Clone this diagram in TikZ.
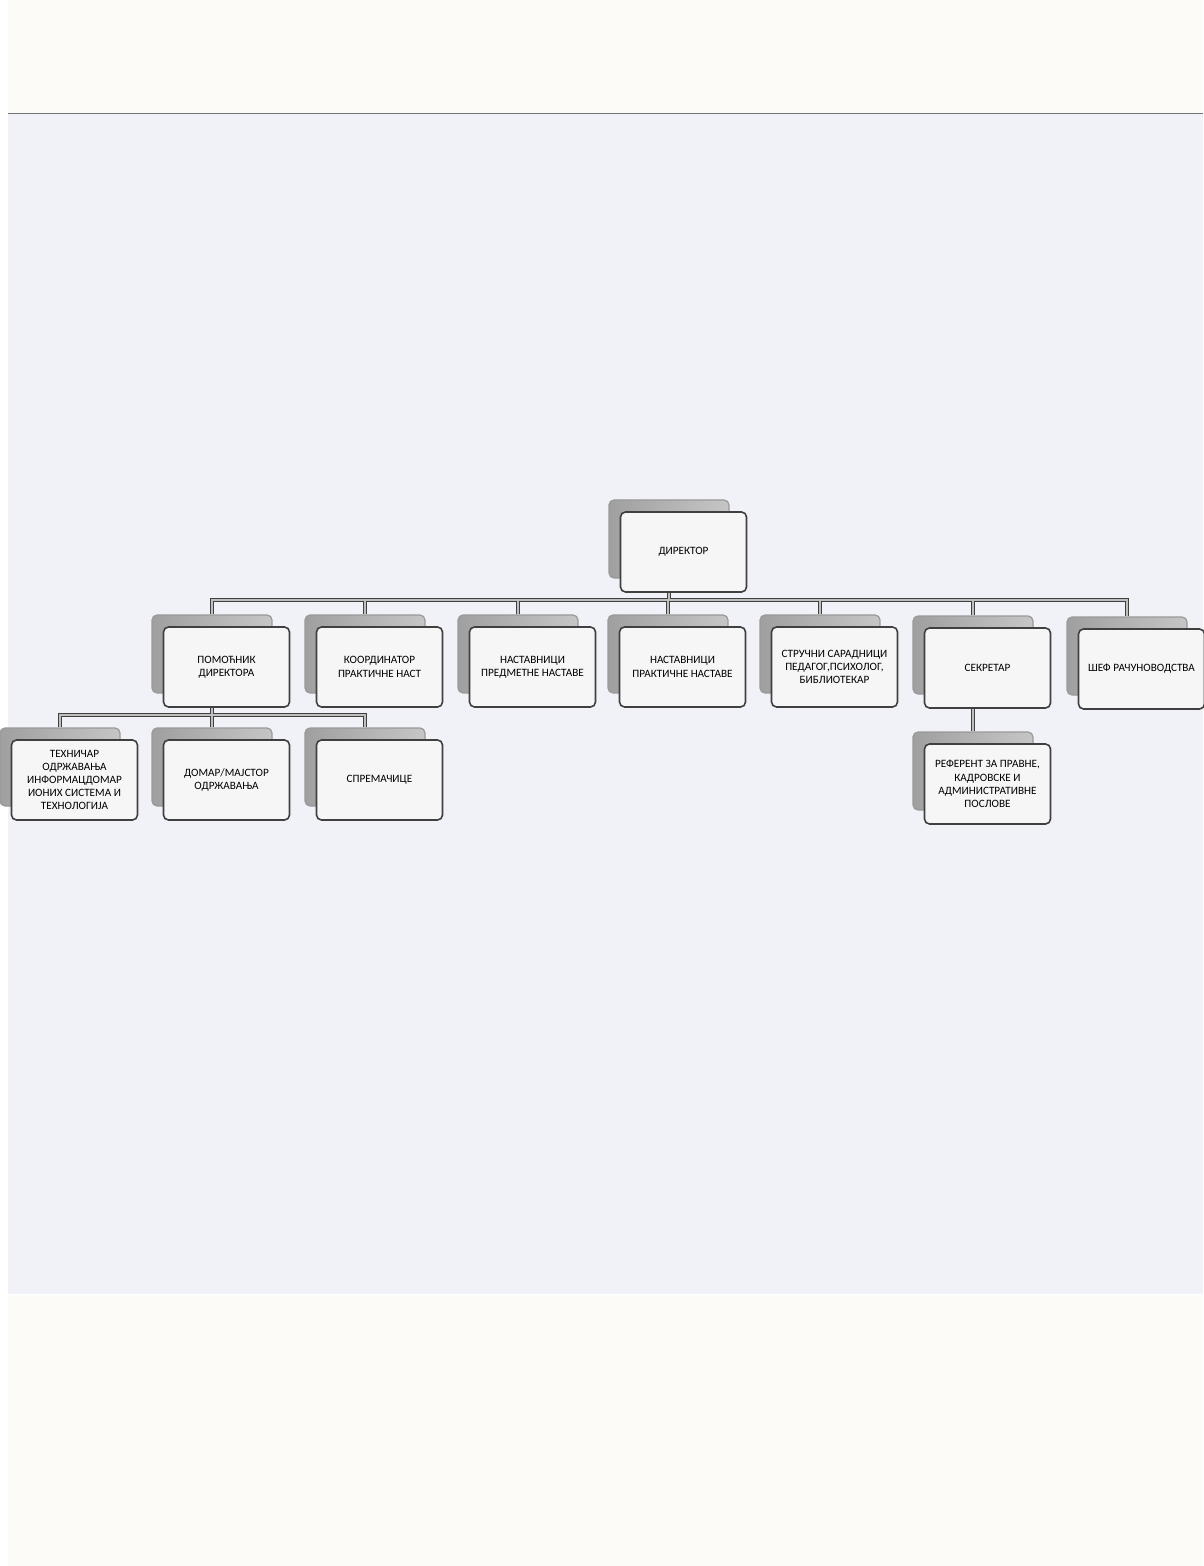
\documentclass[tikz,border=0pt]{standalone}
\usepackage{fontspec}
\usepackage{tikz}
\usetikzlibrary{backgrounds}
\newfontfamily\unitfont{Carlito}
\definecolor{paper}{RGB}{252,251,247}
\definecolor{sheet}{RGB}{240,242,247}

\tikzset{
	back box/.style={rectangle,rounded corners=2.5pt,minimum width=60pt,minimum height=39pt,
		left color=gray!75,right color=gray!45,draw=gray!80,line width=0.6pt},
	unit box/.style={rectangle,rounded corners=2.5pt,minimum width=63pt,minimum height=40pt,
		fill=gray!7,draw=black!75,line width=0.8pt,align=center,inner sep=1pt,text=black,
		font=\unitfont\fontsize{5.6}{6.6}\selectfont,xshift=7.25pt,yshift=-6.5pt},
	link/.style={draw=black!75,line width=0.6pt,double=gray!50,double distance=0.9pt}
}

\begin{document}
\begin{tikzpicture}[x=0.5pt,y=-0.5pt]
	\useasboundingbox (0,0) rectangle (1203,1566);
	
	% the scanned page
	\begin{scope}[on background layer]
	\fill[white] (0,0) rectangle (1203,1566);
	\fill[paper] (8,0) rectangle (1203,113);
	\fill[sheet] (8,114) rectangle (1203,1294);
	\fill[paper] (8,1295) rectangle (1203,1566);
	\draw[black!55,line width=0.8pt] (8,113.5) -- (1203,113.5);
	\end{scope}
	
	\coordinate (bus) at (0,600);
	\coordinate (bus2) at (0,715);
	
	% top
	\node[back box] (dirb) at (669,539) {};
	\node[unit box] (dir) at (dirb) {ДИРЕКТОР};
	
	% second row
	\node[back box] (pomb) at (212,654) {};
	\node[unit box] (pom) at (pomb) {ПОМОЋНИК\\ДИРЕКТОРА};
	\node[back box] (koob) at (365,654) {};
	\node[unit box] (koo) at (koob) {КООРДИНАТОР\\ПРАКТИЧНЕ НАСТ};
	\node[back box] (predb) at (518,654) {};
	\node[unit box] (pred) at (predb) {НАСТАВНИЦИ\\ПРЕДМЕТНЕ НАСТАВЕ};
	\node[back box] (prakb) at (668,654) {};
	\node[unit box] (prak) at (prakb) {НАСТАВНИЦИ\\ПРАКТИЧНЕ НАСТАВЕ};
	\node[back box] (strb) at (820,654) {};
	\node[unit box] (str) at (strb) {СТРУЧНИ САРАДНИЦИ\\ПЕДАГОГ,ПСИХОЛОГ,\\БИБЛИОТЕКАР};
	\node[back box] (sekb) at (973,655) {};
	\node[unit box] (sek) at (sekb) {СЕКРЕТАР};
	\node[back box] (shefb) at (1127,656) {};
	\node[unit box] (shef) at (shefb) {ШЕФ РАЧУНОВОДСТВА};
	
	% third row
	\node[back box] (tehb) at (60,767) {};
	\node[unit box] (teh) at (tehb) {ТЕХНИЧАР\\ОДРЖАВАЊА\\ИНФОРМАЦДОМАР\\ИОНИХ СИСТЕМА И\\ТЕХНОЛОГИЈА};
	\node[back box] (domb) at (212,767) {};
	\node[unit box] (dom) at (domb) {ДОМАР/МАЈСТОР\\ОДРЖАВАЊА};
	\node[back box] (sprb) at (365,767) {};
	\node[unit box] (spr) at (sprb) {СПРЕМАЧИЦЕ};
	\node[back box] (refb) at (973,771) {};
	\node[unit box] (ref) at (refb) {РЕФЕРЕНТ ЗА ПРАВНЕ,\\КАДРОВСКЕ И\\АДМИНИСТРАТИВНЕ\\ПОСЛОВЕ};
	
	% connectors
	\begin{scope}[on background layer]
	\draw[link] (dirb.south) -- (dirb.south |- bus)
		(pomb.north) |- (shefb.north |- bus) -- (shefb.north)
		(koob.north) -- (koob.north |- bus)
		(predb.north) -- (predb.north |- bus)
		(prakb.north) -- (prakb.north |- bus)
		(strb.north) -- (strb.north |- bus)
		(sekb.north) -- (sekb.north |- bus);
	\draw[link] (pomb.south) -- (domb.north)
		(tehb.north) |- (sprb.north |- bus2) -- (sprb.north);
	\draw[link] (sekb.south) -- (refb.north);
	\end{scope}
	
\end{tikzpicture}
\end{document}
